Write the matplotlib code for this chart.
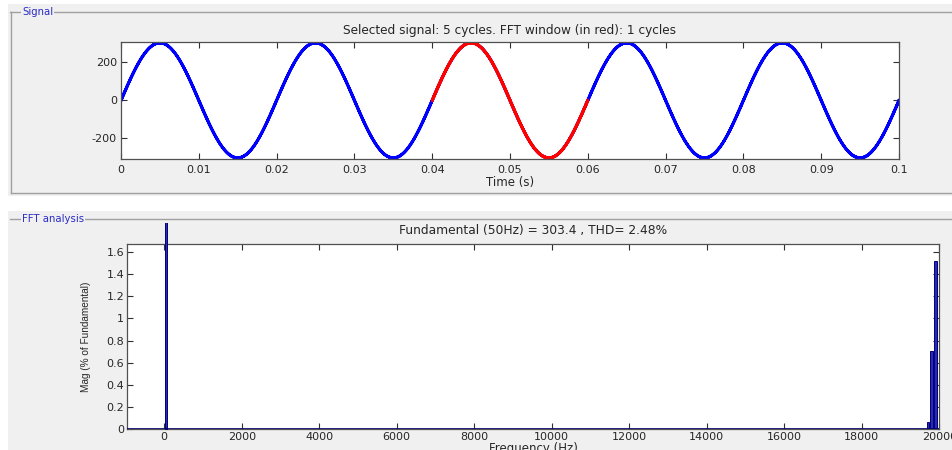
import numpy as np
import matplotlib
matplotlib.use("Agg")
import matplotlib.pyplot as plt
from matplotlib.patches import Rectangle
from matplotlib.lines import Line2D
from matplotlib.transforms import Bbox, TransformedBbox
from matplotlib.ticker import FormatStrFormatter

plt.rcParams["font.family"] = ["DejaVu Sans"]
plt.rcParams["axes.unicode_minus"] = False

# signal parameters
fund_hz = 50
fund_amp = 303.4
n_cycles = 5
window_start = 0.04   # FFT window (in red)
window_end = 0.06
thd = 2.48

# FFT spectrum (% of fundamental)
fft_freq = [50, 19700, 19800, 19900]
fft_mag = [100.0, 0.07, 0.705, 1.52]

time_ticks = [0, 0.01, 0.02, 0.03, 0.04, 0.05, 0.06, 0.07, 0.08, 0.09, 0.1]
sig_ticks = [-200, 0, 200]
freq_ticks = list(range(0, 20001, 2000))
mag_ticks = [0, 0.2, 0.4, 0.6, 0.8, 1.0, 1.2, 1.4, 1.6]

W, H = 953, 450
fig = plt.figure(figsize=(W / 100, H / 100), dpi=100, facecolor="white")


def px_axes(left, top, right, bottom):
    return fig.add_axes([left / W, 1 - bottom / H, (right - left) / W, (bottom - top) / H])


def panel(top, bottom, title, left_line=True):
    fig.patches.append(Rectangle((8 / W, 1 - bottom / H), 1, (bottom - top) / H,
                                 transform=fig.transFigure, facecolor="#f0f0f0",
                                 edgecolor="none", zorder=-10))
    ly = 1 - (top + 8) / H
    fig.lines.append(Line2D([10 / W, 1], [ly, ly], transform=fig.transFigure,
                            color="#a0a0a0", lw=1.0, zorder=-5))
    if left_line:
        by = 1 - (bottom - 3) / H
        fig.lines.append(Line2D([11 / W, 11 / W], [ly, by], transform=fig.transFigure,
                                color="#a0a0a0", lw=1.0, zorder=-5))
        fig.lines.append(Line2D([11 / W, 1], [by, by], transform=fig.transFigure,
                                color="#a0a0a0", lw=1.0, zorder=-5))
    fig.text(22 / W, ly, title, color="#2a2ac8", fontsize=7.3, va="center", ha="left",
             bbox=dict(facecolor="#f0f0f0", edgecolor="none", pad=0.8), zorder=-4)


panel(4, 196, "Signal")
panel(211, 460, "FFT analysis", left_line=False)


def style(ax):
    ax.set_facecolor("white")
    for s in ax.spines.values():
        s.set_color("#505050")
        s.set_linewidth(0.9)
    ax.tick_params(direction="in", length=4, width=0.8, color="#303030",
                   top=True, right=True, labelsize=8, labelcolor="#262626", pad=3)


# ---- signal panel ----
fs = 400000
t = np.arange(0, n_cycles / fund_hz + 0.5 / fs, 1 / fs)
sig = fund_amp * np.sin(2 * np.pi * fund_hz * t)
for f, m in zip(fft_freq[1:], fft_mag[1:]):
    sig = sig + fund_amp * m / 100 * np.sin(2 * np.pi * f * t)

ax1 = px_axes(121, 42, 899, 159.3)
style(ax1)
ax1.tick_params(axis="x", pad=4)
ax1.plot(t, sig, color="#0000ff", lw=1.6, solid_joinstyle="round")
win = (t >= window_start) & (t <= window_end)
ax1.plot(t[win], sig[win], color="#ff0000", lw=1.6)
ax1.set_xlim(0, n_cycles / fund_hz)
ax1.set_ylim(-311, 308)
ax1.set_xticks(time_ticks)
ax1.set_yticks(sig_ticks)
ax1.xaxis.set_major_formatter(FormatStrFormatter("%g"))
ax1.set_xlabel("Time (s)", fontsize=8.5, color="#262626", labelpad=1)
ax1.set_title("Selected signal: %d cycles. FFT window (in red): %d cycles"
              % (n_cycles, round((window_end - window_start) * fund_hz)),
              fontsize=8.7, color="#262626", pad=6)

# ---- FFT panel ----
ax2 = px_axes(127, 244, 939.3, 429.3)
style(ax2)
ax2.tick_params(axis="x", pad=2)
ax2.tick_params(axis="y", pad=2)
bars = ax2.bar(fft_freq, fft_mag, width=60, color="#2a2ab4", edgecolor="#00007a",
               linewidth=0.7, zorder=3)
clip = TransformedBbox(Bbox.from_extents(0, 0, 1, 1 - 223.5 / H), fig.transFigure)
bars[0].set_clip_on(True)
bars[0].set_clip_box(clip)
ax2.axhline(0, color="#00006e", lw=1.2, zorder=4)
ax2.set_xlim(-960, 20000)
ax2.set_ylim(0, 1.67)
ax2.set_xticks(freq_ticks)
ax2.set_yticks(mag_ticks)
ax2.yaxis.set_major_formatter(FormatStrFormatter("%g"))
ax2.set_xlabel("Frequency (Hz)", fontsize=8.5, color="#262626", labelpad=0)
ax2.set_ylabel("Mag (% of Fundamental)", fontsize=7.2, color="#262626", labelpad=11,
               family=["Liberation Sans Narrow", "Liberation Sans"])
ax2.set_title("Fundamental (%dHz) = %.1f , THD= %.2f%%" % (fund_hz, fund_amp, thd),
              fontsize=8.8, color="#262626", pad=7)

fig.savefig("out.png", dpi=100, facecolor="white")
